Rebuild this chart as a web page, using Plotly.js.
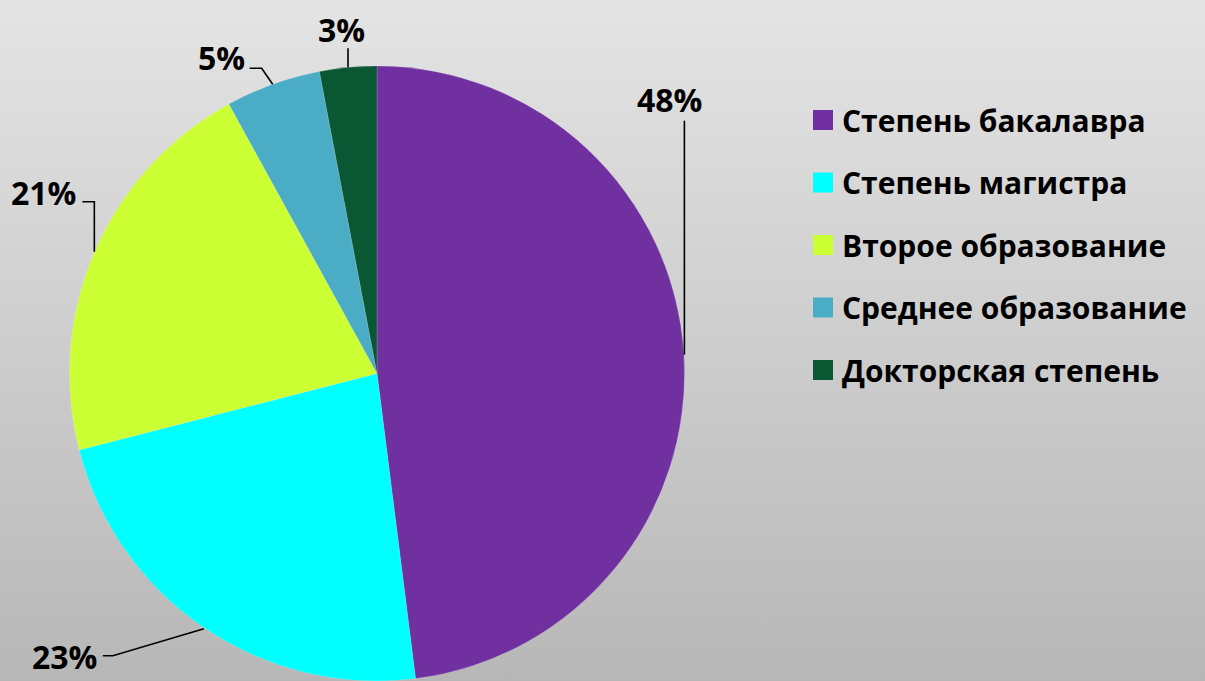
<!DOCTYPE html>
<html>
<head>
<meta charset="utf-8">
<script src="https://cdn.plot.ly/plotly-3.0.1.min.js"></script>
<style>
  html, body { margin: 0; padding: 0; width: 1205px; height: 681px; overflow: hidden;
    background: linear-gradient(to bottom, #e4e4e4 0%, #b7b7b7 100%); }
  #chart { width: 1205px; height: 681px; }
</style>
</head>
<body>
<div id="chart"></div>
<script>
// ---- data ----
const categories = ["Степень бакалавра", "Степень магистра", "Второе образование", "Среднее образование", "Докторская степень"];
const values = [48, 23, 21, 5, 3];
const colors = ["#7030A0", "#00FFFF", "#CCFF33", "#4BACC6", "#0A5733"];

// ---- layout config (pixel geometry) ----
const W = 1205, H = 681;
const cx = 377, cy = 374, R = 308;
const FONT = "'Open Sans', 'Noto Sans', sans-serif";
// leader-line elbows and label offsets relative to the slice's edge point
const leaders = [
  { pts: [[0, -234]], label: [-15, -255], align: "center" },
  { pts: [[-91, 27], [-101, 27]], label: [-105, 28], align: "right" },
  { pts: [[0, -50], [-12, -50]], label: [-16, -59], align: "right" },
  { pts: [[-11, -16], [-23, -16]], label: [-26, -27], align: "right" },
  { pts: [[0, -19]], label: [-7, -38], align: "center" }
];

const total = values.reduce((a, b) => a + b, 0);
const shapes = [], annotations = [];
let cum = 0;
values.forEach((v, i) => {
  const mid = (cum + v / 2) / total * 2 * Math.PI;
  cum += v;
  const ax = cx + R * Math.sin(mid), ay = cy - R * Math.cos(mid);
  const L = leaders[i];
  let d = `M${ax},${ay}`;
  L.pts.forEach(p => { d += ` L${ax + p[0]},${ay + p[1]}`; });
  shapes.push({ type: "path", xref: "x", yref: "y", path: d, line: { color: "#000000", width: 1.6 } });
  annotations.push({
    xref: "x", yref: "y", x: ax + L.label[0], y: ay + L.label[1],
    text: "<b>" + Math.round(v / total * 100) + "%</b>",
    showarrow: false, xanchor: L.align, yanchor: "middle",
    font: { family: FONT, size: 32, color: "#000000" }
  });
});

// custom legend
const legX = 813, legY0 = 120, legStep = 62.5, sq = 20;
categories.forEach((c, i) => {
  const y = legY0 + i * legStep;
  shapes.push({ type: "rect", xref: "x", yref: "y", x0: legX, x1: legX + sq, y0: y - sq / 2, y1: y + sq / 2,
    fillcolor: colors[i], line: { width: 0 } });
  annotations.push({ xref: "x", yref: "y", x: legX + sq + 7, y: y, text: "<b>" + c + "</b>",
    showarrow: false, xanchor: "left", yanchor: "middle",
    font: { family: FONT, size: 30, color: "#000000" } });
});

const data = [{
  type: "pie",
  labels: categories,
  values: values,
  marker: { colors: colors, line: { color: "rgba(255,255,255,0.3)", width: 0.5 } },
  sort: false,
  direction: "clockwise",
  rotation: 0,
  textinfo: "none",
  hoverinfo: "label+percent",
  showlegend: false,
  domain: { x: [(cx - R) / W, (cx + R) / W], y: [(H - cy - R) / H < 0 ? 0 : (H - cy - R) / H, (H - cy + R) / H] }
}];

const layout = {
  width: W, height: H,
  margin: { l: 0, r: 0, t: 0, b: 0 },
  paper_bgcolor: "rgba(0,0,0,0)",
  plot_bgcolor: "rgba(0,0,0,0)",
  showlegend: false,
  xaxis: { range: [0, W], visible: false, fixedrange: true },
  yaxis: { range: [H, 0], visible: false, fixedrange: true },
  shapes: shapes,
  annotations: annotations
};

Plotly.newPlot("chart", data, layout, { displayModeBar: false, staticPlot: true });
</script>
</body>
</html>
